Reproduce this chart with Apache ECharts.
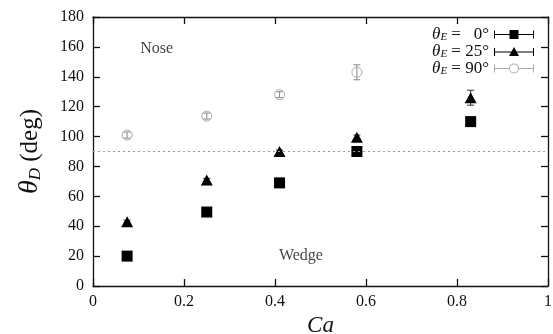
<!DOCTYPE html>
<html><head><meta charset="utf-8">
<script src="https://cdn.jsdelivr.net/npm/echarts@6/dist/echarts.min.js"></script>
<style>html,body{margin:0;padding:0;background:#fff}#c{width:553px;height:334px}</style>
</head><body><div id="c"></div>
<script>
// Data
const ca = [0.075, 0.25, 0.41, 0.58, 0.83];
const theta0 = [20, 49.5, 69, 90, 110];
const theta0Err = [1, 1, 1, 1.5, 1.5];
const theta25 = [43, 71, 90, 99.5, 126];
const theta25Err = [1, 1, 1, 1.5, 5];
const caCircle = [0.075, 0.25, 0.41, 0.58];
const theta90 = [101, 113.7, 128, 143];
const theta90Err = [2, 2, 2, 5];
const annotations = [[0.14, 158.5, 'Nose'], [0.457, 20.5, 'Wedge']];
const refLine = 90;
const seriesNames = ['t0', 't25', 't90'];
const legendLabels = {t0: '  0°', t25: '25°', t90: '90°'};

const serif = '"Liberation Serif", "DejaVu Serif", serif';
const chart = echarts.init(document.getElementById('c'), null, {renderer: 'canvas'});

function errRender(color) {
  return function (params, api) {
    const x = api.value(0), y = api.value(1), e = api.value(2);
    const t = api.coord([x, y + e]), b = api.coord([x, y - e]);
    const c = 3.5, st = {stroke: color, lineWidth: 1};
    return {type: 'group', children: [
      {type: 'line', shape: {x1: t[0], y1: t[1], x2: b[0], y2: b[1]}, style: st},
      {type: 'line', shape: {x1: t[0] - c, y1: t[1], x2: t[0] + c, y2: t[1]}, style: st},
      {type: 'line', shape: {x1: b[0] - c, y1: b[1], x2: b[0] + c, y2: b[1]}, style: st}
    ]};
  };
}
const zip = (xs, ys, es) => xs.map((x, i) => es ? [x, ys[i], es[i]] : [x, ys[i]]);

const axisCommon = {
  min: 0, axisLine: {show: true, onZero: false, lineStyle: {color: '#111', width: 1.3}},
  axisTick: {show: true, inside: true, length: 7, lineStyle: {color: '#111', width: 1.3}},
  splitLine: {show: false}
};

const lineSeg = 'M0,9.5h15v1h-15z M25,9.5h15v1h-15z M0,6h1v8h-1z M39,6h1v8h-1z ';
const icons = {
  t0: 'path://' + lineSeg + 'M15,9.5h10v1h-10z M15.5,5.5h9v9h-9z',
  t25: 'path://' + lineSeg + 'M15,9.5h10v1h-10z M20,5L25,14H15z',
  t90: 'path://' + lineSeg + 'M25,10A5,5 0 1,0 15,10A5,5 0 1,0 25,10Z M24,10A4,4 0 1,1 16,10A4,4 0 1,1 24,10Z'
};

chart.setOption({
  animation: false,
  backgroundColor: '#fff',
  grid: {left: 93, right: 5, top: 17, bottom: 48, containLabel: false, outerBoundsMode: 'none'},
  legend: {
    right: 19, top: 26, orient: 'vertical', align: 'right', itemGap: 0, padding: 0,
    itemWidth: 40, itemHeight: 12,
    data: seriesNames.map(n => ({name: n, icon: icons[n],
      itemStyle: n === 't90' ? {color: '#aaa', borderWidth: 0} : {color: '#000', borderWidth: 0}})),
    formatter: n => '{t|θ}{s|E}{u| = ' + legendLabels[n] + '}',
    textStyle: {
      rich: {
        t: {fontFamily: serif, fontSize: 17, fontStyle: 'italic', color: '#111', lineHeight: 15.5},
        s: {fontFamily: serif, fontSize: 11, color: '#111', fontStyle: 'italic', padding: [5, 0, 0, 0], lineHeight: 10},
        u: {fontFamily: serif, fontSize: 17, color: '#111', lineHeight: 15.5}
      }
    }
  },
  xAxis: [
    Object.assign({}, axisCommon, {type: 'value', max: 1, interval: 0.2, position: 'bottom',
      name: 'Ca', nameLocation: 'middle', nameGap: 24,
      nameTextStyle: {fontFamily: serif, fontSize: 23, fontStyle: 'italic', color: '#111'},
      axisLabel: {fontFamily: serif, fontSize: 16, color: '#111', margin: 8}}),
    Object.assign({}, axisCommon, {type: 'value', max: 1, interval: 0.2, position: 'top', axisLabel: {show: false}})
  ],
  yAxis: [
    Object.assign({}, axisCommon, {type: 'value', max: 180, interval: 20, position: 'left',
      name: '{t|θ}{s|D}{u| (deg)}', nameLocation: 'middle', nameGap: 49, nameRotate: 90,
      nameTextStyle: {rich: {
        t: {fontFamily: serif, fontSize: 28, fontStyle: 'italic', color: '#111'},
        s: {fontFamily: serif, fontSize: 17, fontStyle: 'italic', color: '#111', padding: [11, 0, 0, 0]},
        u: {fontFamily: serif, fontSize: 25, color: '#111'}
      }},
      axisLabel: {fontFamily: serif, fontSize: 16, color: '#111', margin: 9}}),
    Object.assign({}, axisCommon, {type: 'value', max: 180, interval: 20, position: 'right', axisLabel: {show: false}})
  ],
  series: [
    {type: 'custom', renderItem: errRender('#888'), data: zip(caCircle, theta90, theta90Err), z: 2, silent: true},
    {type: 'custom', renderItem: errRender('#333'), data: zip(ca, theta25, theta25Err), z: 2, silent: true},
    {type: 'custom', renderItem: errRender('#333'), data: zip(ca, theta0, theta0Err), z: 2, silent: true},
    {name: 't90', type: 'scatter', symbol: 'circle', symbolSize: 10, z: 3,
      itemStyle: {color: 'rgba(255,255,255,0)', borderColor: '#aaa', borderWidth: 1, opacity: 1},
      data: zip(caCircle, theta90),
      markLine: {silent: true, symbol: 'none', label: {show: false},
        lineStyle: {type: [2, 3], color: '#999', width: 1}, data: [{yAxis: refLine}]}},
    {name: 't25', type: 'scatter', symbol: 'triangle', symbolSize: [12, 11], z: 3,
      itemStyle: {color: '#000', opacity: 1}, data: zip(ca, theta25)},
    {name: 't0', type: 'scatter', symbol: 'rect', symbolSize: 11, z: 3,
      itemStyle: {color: '#000', opacity: 1}, data: zip(ca, theta0)},
    {type: 'scatter', symbolSize: 0, silent: true, data: annotations,
      label: {show: true, position: 'inside', formatter: p => p.value[2],
        fontFamily: serif, fontSize: 16, color: '#111'}}
  ]
});
</script></body></html>
